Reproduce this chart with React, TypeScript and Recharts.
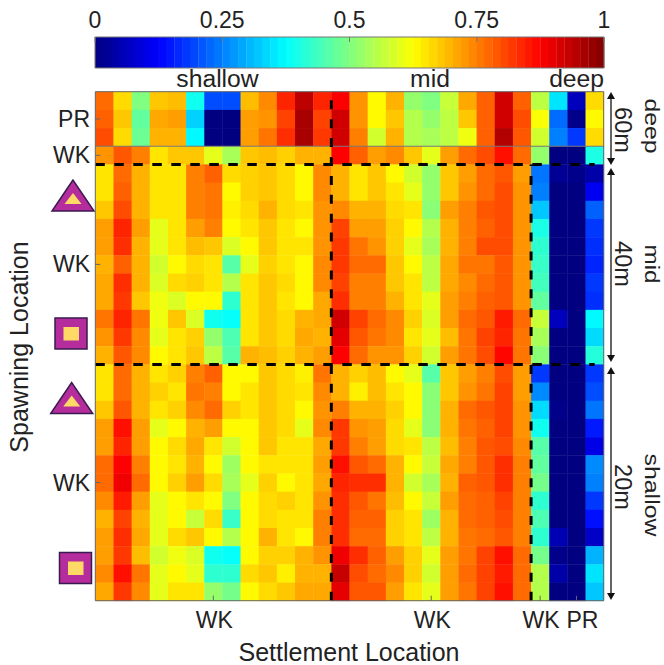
import React from "react";
import {
  ScatterChart,
  Scatter,
  XAxis,
  YAxis,
  ReferenceLine,
} from "recharts";

const deepPR = [
  [0.77, 0.66, 0.5, 0.68, 0.69, 0.39, 0.2, 0.2, 0.69, 0.74, 0.84, 0.94, 0.84, 0.88, 0.73, 0.63, 0.7, 0.52, 0.5, 0.57, 0.71, 0.78, 0.92, 0.78, 0.56, 0.35, 0.06, 0.66],
  [0.78, 0.68, 0.47, 0.71, 0.72, 0.33, 0, 0, 0.72, 0.73, 0.81, 0.96, 0.81, 0.92, 0.73, 0.63, 0.68, 0.55, 0.52, 0.56, 0.68, 0.78, 0.92, 0.8, 0.62, 0.23, 0.01, 0.63],
  [0.8, 0.66, 0.48, 0.7, 0.7, 0.37, 0, 0, 0.72, 0.76, 0.83, 0.96, 0.82, 0.92, 0.75, 0.58, 0.7, 0.55, 0.54, 0.56, 0.61, 0.78, 0.95, 0.79, 0.58, 0.25, 0.18, 0.66],
];
const deepWK = [
  [0.73, 0.79, 0.75, 0.65, 0.68, 0.68, 0.6, 0.54, 0.68, 0.69, 0.67, 0.7, 0.7, 0.875, 0.78, 0.72, 0.74, 0.68, 0.6, 0.72, 0.77, 0.8, 0.86, 0.77, 0.52, 0, 0, 0.4],
];
const midWK = [
  [0.65, 0.77, 0.7, 0.65, 0.65, 0.75, 0.78, 0.66, 0.67, 0.68, 0.66, 0.63, 0.74, 0.7, 0.65, 0.68, 0.63, 0.58, 0.52, 0.68, 0.72, 0.77, 0.79, 0.72, 0.24, 0.02, 0.01, 0.04],
  [0.65, 0.78, 0.7, 0.65, 0.65, 0.75, 0.76, 0.63, 0.67, 0.68, 0.66, 0.63, 0.74, 0.7, 0.65, 0.68, 0.65, 0.6, 0.52, 0.68, 0.73, 0.77, 0.8, 0.73, 0.25, 0, 0, 0.11],
  [0.68, 0.8, 0.7, 0.65, 0.65, 0.75, 0.76, 0.64, 0.66, 0.7, 0.66, 0.65, 0.73, 0.74, 0.7, 0.7, 0.66, 0.65, 0.51, 0.72, 0.75, 0.79, 0.8, 0.73, 0.32, 0, 0, 0.22],
  [0.72, 0.84, 0.72, 0.6, 0.65, 0.72, 0.75, 0.63, 0.65, 0.68, 0.65, 0.63, 0.73, 0.81, 0.72, 0.72, 0.67, 0.63, 0.55, 0.7, 0.75, 0.78, 0.8, 0.73, 0.4, 0, 0, 0.18],
  [0.72, 0.83, 0.7, 0.6, 0.65, 0.69, 0.68, 0.59, 0.63, 0.68, 0.65, 0.65, 0.73, 0.82, 0.76, 0.73, 0.67, 0.6, 0.54, 0.7, 0.75, 0.8, 0.8, 0.73, 0.42, 0, 0, 0.17],
  [0.7, 0.78, 0.7, 0.58, 0.63, 0.66, 0.65, 0.46, 0.6, 0.67, 0.65, 0.63, 0.74, 0.82, 0.77, 0.77, 0.68, 0.63, 0.56, 0.71, 0.76, 0.76, 0.79, 0.73, 0.43, 0, 0, 0.16],
  [0.71, 0.83, 0.7, 0.59, 0.66, 0.67, 0.65, 0.55, 0.65, 0.68, 0.66, 0.63, 0.74, 0.81, 0.75, 0.75, 0.68, 0.65, 0.56, 0.71, 0.74, 0.77, 0.79, 0.73, 0.44, 0, 0, 0.18],
  [0.71, 0.82, 0.68, 0.61, 0.59, 0.63, 0.63, 0.42, 0.65, 0.68, 0.65, 0.63, 0.71, 0.83, 0.75, 0.75, 0.7, 0.65, 0.6, 0.72, 0.75, 0.78, 0.79, 0.73, 0.47, 0, 0, 0.17],
  [0.76, 0.84, 0.76, 0.61, 0.68, 0.59, 0.39, 0.38, 0.65, 0.68, 0.66, 0.7, 0.71, 0.92, 0.81, 0.77, 0.74, 0.67, 0.59, 0.72, 0.77, 0.79, 0.85, 0.77, 0.57, 0.06, 0, 0.37],
  [0.73, 0.82, 0.74, 0.6, 0.65, 0.67, 0.52, 0.45, 0.65, 0.68, 0.66, 0.71, 0.7, 0.9, 0.79, 0.76, 0.74, 0.65, 0.6, 0.69, 0.76, 0.81, 0.84, 0.76, 0.54, 0, 0, 0.34],
  [0.7, 0.79, 0.74, 0.63, 0.65, 0.68, 0.56, 0.46, 0.7, 0.69, 0.67, 0.7, 0.72, 0.875, 0.77, 0.73, 0.73, 0.67, 0.58, 0.72, 0.76, 0.8, 0.87, 0.76, 0.51, 0, 0, 0.41],
];
const shallowWK = [
  [0.65, 0.77, 0.7, 0.65, 0.67, 0.75, 0.78, 0.63, 0.63, 0.68, 0.66, 0.64, 0.76, 0.7, 0.67, 0.69, 0.63, 0.6, 0.46, 0.68, 0.72, 0.75, 0.8, 0.72, 0.18, 0, 0, 0.18],
  [0.65, 0.77, 0.7, 0.67, 0.65, 0.76, 0.75, 0.63, 0.65, 0.68, 0.66, 0.65, 0.74, 0.7, 0.64, 0.69, 0.65, 0.63, 0.51, 0.68, 0.73, 0.76, 0.81, 0.72, 0.26, 0, 0, 0.2],
  [0.68, 0.79, 0.7, 0.65, 0.67, 0.74, 0.77, 0.67, 0.65, 0.68, 0.66, 0.63, 0.73, 0.75, 0.7, 0.7, 0.67, 0.63, 0.51, 0.7, 0.77, 0.79, 0.81, 0.73, 0.34, 0.01, 0, 0.24],
  [0.72, 0.86, 0.72, 0.6, 0.63, 0.7, 0.72, 0.63, 0.63, 0.68, 0.66, 0.6, 0.74, 0.82, 0.73, 0.72, 0.66, 0.6, 0.51, 0.7, 0.76, 0.78, 0.81, 0.73, 0.39, 0, 0, 0.15],
  [0.72, 0.84, 0.72, 0.63, 0.66, 0.71, 0.65, 0.58, 0.63, 0.68, 0.65, 0.65, 0.71, 0.82, 0.75, 0.72, 0.66, 0.65, 0.56, 0.69, 0.75, 0.79, 0.8, 0.74, 0.46, 0, 0, 0.1],
  [0.77, 0.875, 0.75, 0.63, 0.65, 0.7, 0.63, 0.53, 0.63, 0.65, 0.65, 0.65, 0.72, 0.86, 0.79, 0.77, 0.7, 0.63, 0.57, 0.71, 0.75, 0.79, 0.83, 0.75, 0.47, 0, 0, 0.26],
  [0.77, 0.89, 0.77, 0.63, 0.67, 0.72, 0.66, 0.54, 0.6, 0.67, 0.63, 0.65, 0.71, 0.84, 0.83, 0.83, 0.7, 0.58, 0.54, 0.7, 0.78, 0.79, 0.83, 0.75, 0.49, 0, 0, 0.25],
  [0.74, 0.85, 0.72, 0.6, 0.63, 0.65, 0.63, 0.5, 0.63, 0.66, 0.67, 0.65, 0.73, 0.83, 0.79, 0.76, 0.69, 0.63, 0.57, 0.72, 0.77, 0.78, 0.81, 0.75, 0.42, 0, 0, 0.18],
  [0.7, 0.81, 0.7, 0.6, 0.63, 0.57, 0.66, 0.43, 0.63, 0.66, 0.65, 0.65, 0.75, 0.83, 0.78, 0.78, 0.67, 0.65, 0.53, 0.7, 0.77, 0.78, 0.8, 0.75, 0.45, 0, 0, 0.14],
  [0.72, 0.83, 0.71, 0.6, 0.66, 0.68, 0.63, 0.55, 0.63, 0.7, 0.65, 0.63, 0.75, 0.83, 0.77, 0.77, 0.67, 0.65, 0.56, 0.7, 0.76, 0.77, 0.79, 0.75, 0.42, 0.05, 0, 0.07],
  [0.72, 0.82, 0.69, 0.58, 0.61, 0.59, 0.39, 0.38, 0.63, 0.67, 0.67, 0.7, 0.73, 0.89, 0.83, 0.78, 0.72, 0.67, 0.6, 0.72, 0.76, 0.81, 0.86, 0.77, 0.49, 0.01, 0, 0.3],
  [0.74, 0.86, 0.76, 0.6, 0.63, 0.6, 0.42, 0.42, 0.66, 0.68, 0.64, 0.7, 0.7, 0.93, 0.8, 0.77, 0.74, 0.67, 0.58, 0.72, 0.77, 0.81, 0.85, 0.77, 0.55, 0.04, 0, 0.35],
  [0.71, 0.82, 0.74, 0.6, 0.65, 0.65, 0.52, 0.49, 0.63, 0.66, 0.68, 0.71, 0.71, 0.9, 0.79, 0.79, 0.72, 0.65, 0.6, 0.72, 0.76, 0.81, 0.86, 0.77, 0.55, 0, 0, 0.32],
];

const colorbarLevels = [
  0.008, 0.023, 0.039, 0.055, 0.07, 0.086, 0.102, 0.117, 0.133, 0.148, 0.164, 0.18, 0.195, 0.211, 0.227, 0.242,
  0.258, 0.273, 0.289, 0.305, 0.32, 0.336, 0.352, 0.367, 0.383, 0.398, 0.414, 0.43, 0.445, 0.461, 0.477, 0.492,
  0.508, 0.523, 0.539, 0.555, 0.57, 0.586, 0.602, 0.617, 0.633, 0.648, 0.664, 0.68, 0.695, 0.711, 0.727, 0.742,
  0.758, 0.773, 0.789, 0.805, 0.82, 0.836, 0.852, 0.867, 0.883, 0.898, 0.914, 0.93, 0.945, 0.961, 0.977, 0.992,
];
const colorbarTicks = [0, 0.25, 0.5, 0.75, 1];

const xTicks = [6.5, 18.5, 24.5, 26.5];
const xTickLabels = ["WK", "WK", "WK", "PR"];
const yTicks = [1.5, 3.5, 9.5, 21.5];
const yTickLabels = ["PR", "WK", "WK", "WK"];
const depthBands = [
  { y1: 92, y2: 165, depth: "60m", mid: 130 },
  { y1: 168, y2: 362, depth: "40m", mid: 264 },
  { y1: 367, y2: 600, depth: "20m", mid: 487 },
];

const FONT = "Liberation Sans";
const TEXT = "#222";
const PLOT_W = 508.4;
const CELL_W = PLOT_W / 28;
const CELL_H = 509 / 28;

const heatRows = [...deepPR, ...deepWK, ...midWK, ...shallowWK];
const heatCells = heatRows.flatMap((row, r) =>
  row.map((value, c) => ({ col: c + 0.5, row: r + 0.5, value }))
);
const barCells = colorbarLevels.map((value) => ({ value, y: 0.5 }));

const clip = (n: number) => Math.round(255 * Math.max(0, Math.min(1, n)));
const jet = (v: number) => {
  const r = clip(Math.min(4 * v - 1.5, -4 * v + 4.5));
  const g = clip(Math.min(4 * v - 0.5, -4 * v + 3.5));
  const b = clip(Math.min(4 * v + 0.5, -4 * v + 2.5));
  return `rgb(${r},${g},${b})`;
};

const HeatCell = (props: any) => (
  <rect
    x={props.cx - CELL_W / 2}
    y={props.cy - CELL_H / 2}
    width={CELL_W + 0.4}
    height={CELL_H + 0.4}
    fill={jet(props.payload.value)}
  />
);

const BarCell = (props: any) => (
  <rect
    x={props.cx - 4}
    y={props.cy - 15.5}
    width={8.4}
    height={31}
    fill={jet(props.payload.value)}
  />
);

// the upper chart of each pair only carries axes, so its points draw nothing
const NoMark = () => <g />;

const xLabelShift: Record<string, number> = { 6.5: 1, 18.5: 1, 24.5: 1, 26.5: 6 };

const BottomTick = (props: any) => (
  <text
    x={props.x + xLabelShift[props.payload.value]}
    y={628}
    textAnchor="middle"
    fontFamily={FONT}
    fontSize={23}
    fill={TEXT}
  >
    {xTickLabels[xTicks.indexOf(props.payload.value)]}
  </text>
);

const LeftTick = (props: any) => (
  <text
    x={90}
    y={props.y + 8}
    textAnchor="end"
    fontFamily={FONT}
    fontSize={23}
    fill={TEXT}
  >
    {yTickLabels[yTicks.indexOf(props.payload.value)]}
  </text>
);

const BarTick = (props: any) => (
  <text
    x={props.x}
    y={28}
    textAnchor="middle"
    fontFamily={FONT}
    fontSize={23}
    fill={TEXT}
  >
    {props.payload.value}
  </text>
);

const Triangle = ({ x, y }: { x: number; y: number }) => (
  <g>
    <polygon
      points={`${x},${y} ${x - 21},${y + 31} ${x + 21},${y + 31}`}
      fill="#b52c9c"
      stroke="#3a1a50"
      strokeWidth={1.5}
    />
    <polygon
      points={`${x},${y + 13} ${x - 8.5},${y + 24} ${x + 8.5},${y + 24}`}
      fill="#ffd966"
    />
  </g>
);

const Square = ({ x, y }: { x: number; y: number }) => (
  <g>
    <rect x={x} y={y} width={32} height={31} fill="#b52c9c" stroke="#3a1a50" strokeWidth={1.5} />
    <rect x={x + 8.5} y={y + 9} width={15.5} height={13.5} fill="#ffd966" />
  </g>
);

const Arrow = ({ y1, y2 }: { y1: number; y2: number }) => (
  <g>
    <line x1={611} x2={611} y1={y1 + 4} y2={y2 - 4} stroke="#111" strokeWidth={1.3} />
    <polygon points={`611,${y1} 607,${y1 + 7} 615,${y1 + 7}`} fill="#111" />
    <polygon points={`611,${y2} 607,${y2 - 7} 615,${y2 - 7}`} fill="#111" />
  </g>
);

const Side = ({ x, y, size, length, children }: { x: number; y: number; size: number; length?: number; children: string }) => (
  <text
    transform={`translate(${x},${y}) rotate(90)`}
    textAnchor="middle"
    fontFamily={FONT}
    fontSize={size}
    fill={TEXT}
    textLength={length}
    lengthAdjust={length ? "spacingAndGlyphs" : undefined}
  >
    {children}
  </text>
);

const Plain = ({ x, y, size = 24.7, children }: { x: number; y: number; size?: number; children: string }) => (
  <text x={x} y={y} textAnchor="middle" fontFamily={FONT} fontSize={size} fill={TEXT}>
    {children}
  </text>
);

const layer: React.CSSProperties = { position: "absolute", left: 0, top: 0 };

export default function App() {
  return (
    <div style={{ position: "absolute", left: 0, top: 0, width: 664, height: 665, background: "#fff" }}>
      {/* colour bar swatches */}
      <div style={layer}>
        <ScatterChart width={664} height={90} margin={{ top: 37, right: 60, bottom: 22, left: 95 }}>
          <XAxis xAxisId="bar" type="number" dataKey="value" domain={[0, 1]} hide />
          <YAxis yAxisId="bar" type="number" dataKey="y" domain={[0, 1]} hide />
          <Scatter xAxisId="bar" yAxisId="bar" data={barCells} shape={BarCell} isAnimationActive={false} />
        </ScatterChart>
      </div>
      {/* colour bar frame and ticks, above the swatches */}
      <div style={layer}>
        <ScatterChart width={664} height={90} margin={{ top: 36, right: 59, bottom: 21, left: 94 }}>
          <XAxis
            xAxisId="top"
            type="number"
            dataKey="value"
            domain={[0, 1]}
            allowDataOverflow
            ticks={colorbarTicks}
            orientation="top"
            height={1}
            tickSize={-5}
            stroke="#777"
            tick={BarTick}
            interval={0}
          />
          <XAxis xAxisId="low" type="number" dataKey="value" domain={[0, 1]} allowDataOverflow ticks={colorbarTicks} height={1} tickSize={-5} stroke="#777" tick={false} interval={0} />
          <YAxis yAxisId="l" type="number" dataKey="y" domain={[0, 1]} allowDataOverflow width={1} tick={false} stroke="#777" />
          <YAxis yAxisId="r" type="number" dataKey="y" domain={[0, 1]} allowDataOverflow width={1} orientation="right" tick={false} stroke="#777" />
          <Scatter xAxisId="top" yAxisId="l" data={barCells} shape={NoMark} isAnimationActive={false} />
          <Scatter xAxisId="low" yAxisId="r" data={barCells} shape={NoMark} isAnimationActive={false} />
        </ScatterChart>
      </div>
      {/* heat map cells */}
      <div style={layer}>
        <ScatterChart width={664} height={665} margin={{ top: 91.7, right: 60.3, bottom: 64.3, left: 95.3 }}>
          <XAxis xAxisId="b" type="number" dataKey="col" domain={[0, 28]} hide />
          <YAxis yAxisId="l" type="number" dataKey="row" domain={[0, 28]} reversed hide />
          <Scatter xAxisId="b" yAxisId="l" data={heatCells} shape={HeatCell} isAnimationActive={false} />
        </ScatterChart>
      </div>
      {/* axes, dashed dividers and annotations */}
      <div style={layer}>
        <ScatterChart width={664} height={665} margin={{ top: 90.7, right: 59.3, bottom: 63.3, left: 94.3 }}>
          <XAxis xAxisId="b" type="number" dataKey="col" domain={[0, 28]} allowDataOverflow ticks={xTicks} height={1} tickSize={-5} stroke="#666" tick={BottomTick} interval={0} />
          <XAxis xAxisId="t" type="number" dataKey="col" domain={[0, 28]} allowDataOverflow ticks={xTicks} orientation="top" height={1} tickSize={-5} stroke="#666" tick={false} interval={0} />
          <YAxis yAxisId="l" type="number" dataKey="row" domain={[0, 28]} allowDataOverflow reversed ticks={yTicks} width={1} tickSize={-5} stroke="#666" tick={LeftTick} interval={0} />
          <YAxis yAxisId="r" type="number" dataKey="row" domain={[0, 28]} allowDataOverflow reversed orientation="right" ticks={yTicks} width={1} tickSize={-5} stroke="#666" tick={false} interval={0} />
          <Scatter xAxisId="b" yAxisId="l" data={heatCells} shape={NoMark} isAnimationActive={false} />
          <Scatter xAxisId="t" yAxisId="r" data={heatCells} shape={NoMark} isAnimationActive={false} />
          <ReferenceLine xAxisId="b" yAxisId="l" y={3} stroke="#777" strokeWidth={1} />
          <ReferenceLine xAxisId="b" yAxisId="l" segment={[{ x: 13, y: 28 }, { x: 13, y: 0 }]} stroke="#000" strokeWidth={3} strokeDasharray="9 9.9" />
          <ReferenceLine xAxisId="b" yAxisId="l" segment={[{ x: 24, y: 28 }, { x: 24, y: 4 }]} stroke="#000" strokeWidth={3} strokeDasharray="9 9.9" />
          <ReferenceLine xAxisId="b" yAxisId="l" segment={[{ x: 0, y: 4 }, { x: 27.5, y: 4 }]} stroke="#000" strokeWidth={3} strokeDasharray="9.5 9.5" />
          <ReferenceLine xAxisId="b" yAxisId="l" segment={[{ x: 0, y: 15 }, { x: 27.5, y: 15 }]} stroke="#000" strokeWidth={3} strokeDasharray="9.5 9.5" />

          <Plain x={217.5} y={87}>shallow</Plain>
          <Plain x={430} y={87}>mid</Plain>
          <Plain x={576.6} y={87}>deep</Plain>
          <Plain x={349} y={661} size={25}>Settlement Location</Plain>
          <text transform="translate(28,347) rotate(-90)" textAnchor="middle" fontFamily={FONT} fontSize={25} fill={TEXT}>
            Spawning Location
          </text>

          <Triangle x={73} y={180} />
          <Square x={55} y={318} />
          <Triangle x={71.7} y={382.5} />
          <Square x={59.5} y={552.5} />

          {depthBands.map((b) => (
            <g key={b.depth}>
              <Arrow y1={b.y1} y2={b.y2} />
              <Side x={615} y={b.mid} size={23.6}>{b.depth}</Side>
            </g>
          ))}
          <Side x={644.7} y={126} size={20.5} length={55}>deep</Side>
          <Side x={644.7} y={264} size={20.5} length={39}>mid</Side>
          <Side x={644.7} y={495} size={20.5} length={83}>shallow</Side>
        </ScatterChart>
      </div>
    </div>
  );
}
